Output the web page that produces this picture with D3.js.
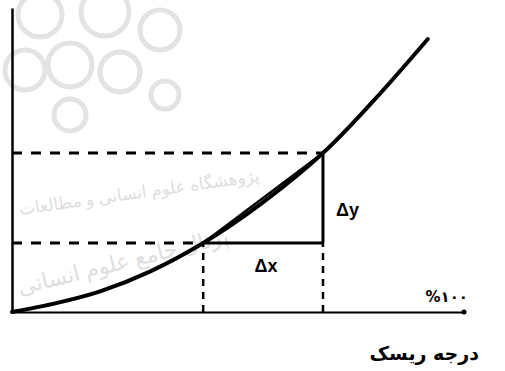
<!DOCTYPE html>
<html>
<head>
<meta charset="utf-8">
<script src="https://cdnjs.cloudflare.com/ajax/libs/d3/7.8.5/d3.min.js"></script>
<style>
  body { margin: 0; background: #fff; }
  svg { display: block; }
</style>
</head>
<body>
<script>
// risk (%) vs. value
var riskPct = [0, 10, 19.5, 30.5, 42.3, 55, 68.8, 80, 92];
var curveVal = [0, 3.0, 6.8, 13.3, 22.7, 35.5, 52.3, 69.5, 89.8];
var pointA = [42.3, 22.7];   // lower point
var pointB = [68.8, 52.3];   // upper point
var axisEndLabel = "%۱۰۰";
var axisTitle = "درجه ریسک";
var deltaLabels = ["Δx", "Δy"];
var watermark = ["پژوهشگاه علوم انسانی و مطالعات", "پرتال جامع علوم انسانی"];

var w = 505, h = 371;

var x = d3.scaleLinear().domain([0, 100]).range([12, 464]);
var y = d3.scaleLinear().domain([0, 100]).range([312, 8]);

var svg = d3.select("body").append("svg")
    .attr("width", w)
    .attr("height", h);

// faint watermark
var wm = svg.append("g").attr("fill", "none").attr("stroke", "#e3e3e3").attr("stroke-width", 5);
[[40, 15, 22], [105, 12, 24], [160, 30, 20], [25, 70, 20], [70, 65, 22], [120, 72, 20], [165, 95, 14], [70, 115, 16]]
    .forEach(function (c) {
        wm.append("circle").attr("cx", c[0]).attr("cy", c[1]).attr("r", c[2]);
    });
svg.append("text")
    .attr("transform", "translate(20,215) rotate(-8)")
    .attr("font-family", "Noto Sans, DejaVu Sans, sans-serif")
    .attr("font-size", 17)
    .attr("fill", "#dedede")
    .text(watermark[0]);
svg.append("text")
    .attr("transform", "translate(20,295) rotate(-14)")
    .attr("font-family", "Noto Sans, DejaVu Sans, sans-serif")
    .attr("font-size", 22)
    .attr("fill", "#dedede")
    .text(watermark[1]);

// axes
svg.append("g")
    .attr("transform", "translate(0," + y(0) + ")")
    .call(d3.axisBottom(x).ticks(0).tickSizeOuter(0))
    .select(".domain").attr("stroke", "#000").attr("stroke-width", 2);
svg.append("g")
    .attr("transform", "translate(" + x(0) + ",0)")
    .call(d3.axisLeft(y).ticks(0).tickSizeOuter(0))
    .select(".domain").attr("stroke", "#000").attr("stroke-width", 2.5);
svg.append("circle").attr("cx", x(100)).attr("cy", y(0)).attr("r", 2.5).attr("fill", "#000");

// dashed guides
function seg(x1, y1, x2, y2, dash, sw) {
    svg.append("line")
        .attr("x1", x(x1)).attr("y1", y(y1))
        .attr("x2", x(x2)).attr("y2", y(y2))
        .attr("stroke", "#000")
        .attr("stroke-width", sw)
        .attr("stroke-dasharray", dash);
}
seg(0, pointB[1], pointB[0], pointB[1], "10,9", 3);
seg(0, pointA[1], pointA[0], pointA[1], "10,9", 3);
seg(pointA[0], 0, pointA[0], pointA[1], "7,6", 2.5);
seg(pointB[0], 0, pointB[0], pointA[1], "7,6", 2.5);
// solid delta legs
seg(pointA[0], pointA[1], pointB[0], pointA[1], null, 3);
seg(pointB[0], pointA[1], pointB[0], pointB[1], null, 3);

// secant
seg(pointA[0], pointA[1], pointB[0], pointB[1], null, 2.5);

// curve
var data = riskPct.map(function (r, i) { return [r, curveVal[i]]; });
svg.append("path")
    .datum(data)
    .attr("fill", "none")
    .attr("stroke", "#000")
    .attr("stroke-width", 4)
    .attr("stroke-linecap", "round")
    .attr("d", d3.line()
        .x(function (d) { return x(d[0]); })
        .y(function (d) { return y(d[1]); })
        .curve(d3.curveCatmullRom));

// labels
svg.append("text")
    .attr("x", (x(pointA[0]) + x(pointB[0])) / 2 + 3)
    .attr("y", y(pointA[1]) + 29)
    .attr("text-anchor", "middle")
    .attr("font-family", "Liberation Sans, Arial, sans-serif")
    .attr("font-weight", "bold")
    .attr("font-size", 18)
    .text(deltaLabels[0]);
svg.append("text")
    .attr("x", x(pointB[0]) + 13)
    .attr("y", (y(pointA[1]) + y(pointB[1])) / 2 + 18)
    .attr("font-family", "Liberation Sans, Arial, sans-serif")
    .attr("font-weight", "bold")
    .attr("font-size", 18)
    .text(deltaLabels[1]);
svg.append("text")
    .attr("x", 468)
    .attr("y", 302)
    .attr("text-anchor", "end")
    .attr("font-family", "DejaVu Sans, sans-serif")
    .attr("font-weight", "bold")
    .attr("font-size", 15)
    .attr("letter-spacing", 2)
    .text(axisEndLabel);
svg.append("text")
    .attr("x", 479)
    .attr("y", 360)
    .attr("text-anchor", "end")
    .attr("font-family", "DejaVu Sans, sans-serif")
    .attr("font-weight", "bold")
    .attr("font-size", 19)
    .text(axisTitle);
</script>
</body>
</html>
